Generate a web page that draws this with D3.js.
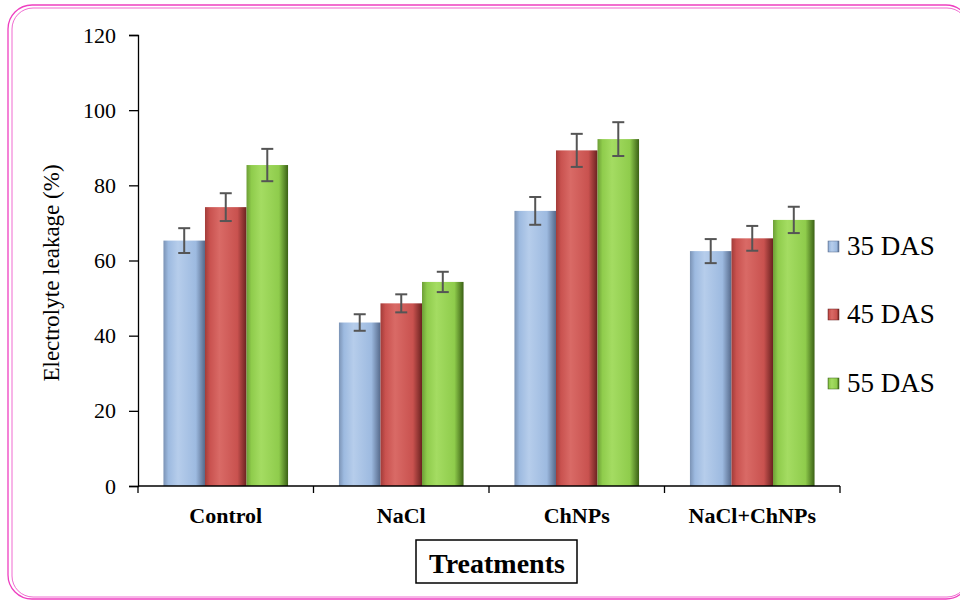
<!DOCTYPE html>
<html><head><meta charset="utf-8">
<script src="https://cdn.jsdelivr.net/npm/d3@7"></script>
<style>body{margin:0;background:#fff}svg{display:block}</style>
</head><body>
<script>
const categories = ["Control", "NaCl", "ChNPs", "NaCl+ChNPs"];
const seriesNames = ["35 DAS", "45 DAS", "55 DAS"];
const das35 = [65.3, 43.5, 73.2, 62.5];
const das45 = [74.2, 48.6, 89.3, 65.9];
const das55 = [85.4, 54.3, 92.3, 70.8];
const err35 = [3.3, 2.2, 3.7, 3.2];
const err45 = [3.7, 2.4, 4.4, 3.3];
const err55 = [4.3, 2.7, 4.5, 3.5];
const yTicks = [0, 20, 40, 60, 80, 100, 120];

(function () {
const values = [das35, das45, das55];
const errors = [err35, err45, err55];
const colors = [
  {edgeL:"#7b93b5", edgeR:"#55698a", mid:"#9dbae0", light:"#b6cdeb"},
  {edgeL:"#a23c39", edgeR:"#6a2220", mid:"#c9524f", light:"#d96a66"},
  {edgeL:"#6d9e36", edgeR:"#3b6115", mid:"#8fcc4c", light:"#a4dc62"}
];

const W = 960, H = 601;
const svg = d3.select("body").append("svg").attr("width", W).attr("height", H);
const defs = svg.append("defs");
colors.forEach((c, i) => {
  const g = defs.append("linearGradient").attr("id", "g" + i).attr("x1", 0).attr("x2", 1).attr("y1", 0).attr("y2", 0);
  g.append("stop").attr("offset", "0%").attr("stop-color", c.edgeL);
  g.append("stop").attr("offset", "12%").attr("stop-color", c.mid);
  g.append("stop").attr("offset", "35%").attr("stop-color", c.light);
  g.append("stop").attr("offset", "78%").attr("stop-color", c.mid);
  g.append("stop").attr("offset", "100%").attr("stop-color", c.edgeR);
});

// pink double border
svg.append("rect").attr("x", 8).attr("y", 5).attr("width", 962).attr("height", 594).attr("rx", 24)
  .attr("fill", "none").attr("stroke", "#ee3fc0").attr("stroke-width", 1.3);
svg.append("rect").attr("x", 12).attr("y", 8).attr("width", 956).attr("height", 589).attr("rx", 21)
  .attr("fill", "none").attr("stroke", "#f06ad0").attr("stroke-width", 1);

const pl = 138, pr = 840, pt = 35, pb = 486;
const x0 = d3.scaleBand().domain(categories).range([pl, pr]).paddingInner(0.29).paddingOuter(0.145);
const x1 = d3.scaleBand().domain(seriesNames).range([0, x0.bandwidth()]).padding(0);
const y = d3.scaleLinear().domain([0, 120]).range([pb, pt]);

// bars
categories.forEach((cat, ci) => {
  seriesNames.forEach((s, si) => {
    const v = values[si][ci];
    svg.append("rect")
      .attr("x", x0(cat) + x1(s)).attr("y", y(v))
      .attr("width", x1.bandwidth()).attr("height", y(0) - y(v))
      .attr("fill", "url(#g" + si + ")");
  });
});
// error bars
categories.forEach((cat, ci) => {
  seriesNames.forEach((s, si) => {
    const v = values[si][ci], e = errors[si][ci];
    const cx = x0(cat) + x1(s) + x1.bandwidth() / 2;
    const g = svg.append("g").attr("stroke", "#555").attr("stroke-width", 2);
    g.append("line").attr("x1", cx).attr("x2", cx).attr("y1", y(v + e)).attr("y2", y(v - e));
    g.append("line").attr("x1", cx - 6).attr("x2", cx + 6).attr("y1", y(v + e)).attr("y2", y(v + e));
    g.append("line").attr("x1", cx - 6).attr("x2", cx + 6).attr("y1", y(v - e)).attr("y2", y(v - e));
  });
});

// y axis
const yAxis = svg.append("g").attr("transform", `translate(${pl},0)`)
  .call(d3.axisLeft(y).tickValues(yTicks).tickSize(9).tickPadding(13));
yAxis.select(".domain").attr("stroke", "#000").attr("stroke-width", 1.3);
yAxis.selectAll("line").attr("stroke", "#000").attr("stroke-width", 1.3);
yAxis.selectAll("text").attr("font-family", "Liberation Serif").attr("font-size", 22).attr("fill", "#000");

// x axis
const xAxisG = svg.append("g").attr("transform", `translate(0,${pb})`);
xAxisG.append("line").attr("x1", pl).attr("x2", pr).attr("y1", 0).attr("y2", 0).attr("stroke", "#000").attr("stroke-width", 1.5);
d3.range(categories.length + 1).forEach(i => {
  const xx = pl + i * (pr - pl) / categories.length;
  xAxisG.append("line").attr("x1", xx).attr("x2", xx).attr("y1", 0).attr("y2", 7).attr("stroke", "#000").attr("stroke-width", 1.3);
});
categories.forEach(cat => {
  xAxisG.append("text").attr("x", x0(cat) + x0.bandwidth() / 2).attr("y", 37)
    .attr("text-anchor", "middle").attr("font-family", "Liberation Serif").attr("font-weight", "bold")
    .attr("font-size", 22).text(cat);
});

// y label
svg.append("text").attr("transform", "translate(59,273) rotate(-90)").attr("text-anchor", "middle")
  .attr("font-family", "Liberation Serif").attr("font-size", 23).text("Electrolyte leakage (%)");

// x title box
svg.append("rect").attr("x", 416).attr("y", 540).attr("width", 161).attr("height", 43)
  .attr("fill", "#fff").attr("stroke", "#000").attr("stroke-width", 1.5);
svg.append("text").attr("x", 497).attr("y", 573).attr("text-anchor", "middle")
  .attr("font-family", "Liberation Serif").attr("font-weight", "bold").attr("font-size", 28).text("Treatments");

// legend
const legY = [255, 323, 392];
seriesNames.forEach((s, i) => {
  svg.append("rect").attr("x", 828).attr("y", legY[i] - 14).attr("width", 11).attr("height", 11)
    .attr("fill", "url(#g" + i + ")").attr("stroke", colors[i].edgeR).attr("stroke-width", 0.5);
  svg.append("text").attr("x", 847).attr("y", legY[i]).attr("font-family", "Liberation Serif")
    .attr("font-size", 27).text(s);
});
})();
</script>
</body></html>
